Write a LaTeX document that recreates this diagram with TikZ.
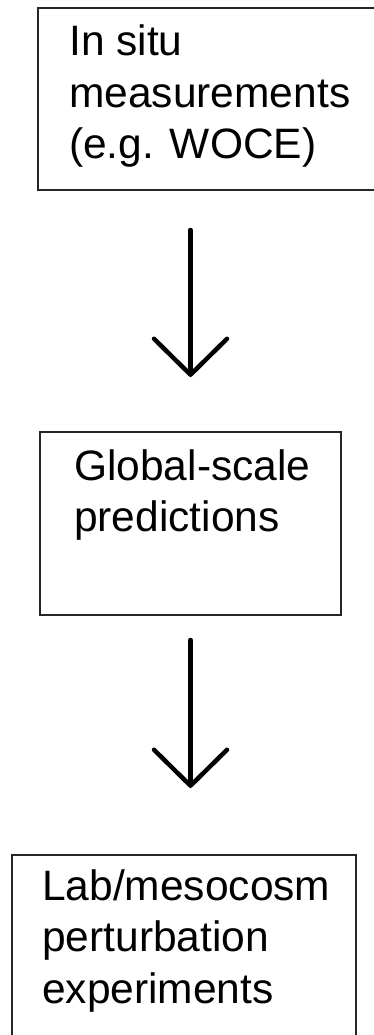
\documentclass[tikz,border=0pt]{standalone}
\usepackage{fontspec}
\setmainfont{Liberation Sans}
\usetikzlibrary{arrows.meta}
\begin{document}
\begin{tikzpicture}[x=1pt,y=-1pt,
  box/.style={draw=black!85, line width=2pt, rectangle, inner sep=0pt},
  txt/.style={inner sep=0pt, align=left, font=\fontsize{42.5}{51.5}\selectfont},
  arr/.style={line width=4.5pt, line cap=round, line join=round,
    -{Straight Barb[length=36pt,width=73pt,line cap=round,line join=round]}}]
\useasboundingbox (0,0) rectangle (374,1035);
\clip (0,0) rectangle (374,1035);
\node[box, minimum width=352pt, minimum height=182pt] (b1) at (214,99) {};
\node[box, minimum width=301pt, minimum height=183pt] (b2) at (190.5,523.5) {};
\node[box, minimum width=344pt, minimum height=200pt] (b3) at (184,955) {};
\node[txt, anchor=base west] (t1) at (69,159) {In situ\\measurements\\(e.g. WOCE)};
\node[txt, anchor=base west] (t2) at (74,531.5) {Global-scale\\predictions};
\node[txt, anchor=base west] (t3) at (42,1003) {Lab/mesocosm\\perturbation\\experiments};
\draw[arr, shorten <=39pt, shorten >=54pt] (b1.south -| b2.north) -- (b2.north);
\draw[arr, shorten <=24pt, shorten >=66pt] (b2.south) -- (b3.north -| b2.south);
\end{tikzpicture}
\end{document}
